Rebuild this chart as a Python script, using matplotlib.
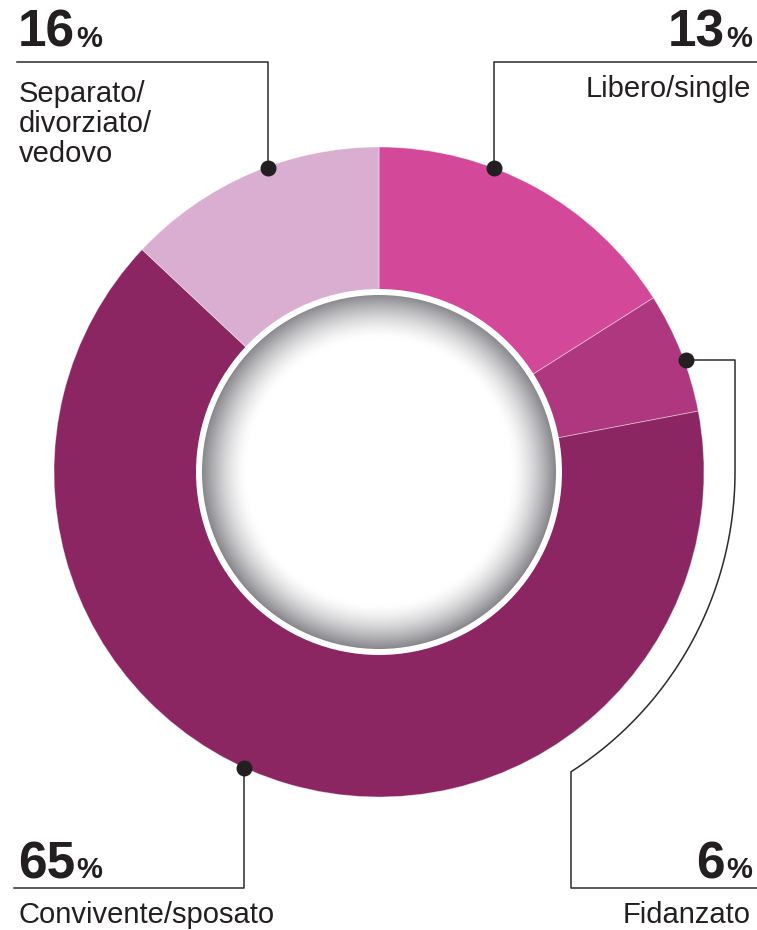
import numpy as np
import matplotlib
matplotlib.use("Agg")
import matplotlib.pyplot as plt
from matplotlib.patches import Circle

# ---- data ----
categories = ["Libero/single", "Fidanzato", "Convivente/sposato", "Separato/\ndivorziato/\nvedovo"]
slice_values = [16, 6, 65, 13]          # slice sizes as drawn in the picture
label_values = ["13", "6", "65", "16"]  # percentages printed in the labels
colors = ["#D4489A", "#AE377F", "#8C2663", "#D9AED0"]

W, H = 757, 930
fig = plt.figure(figsize=(W / 100, H / 100), dpi=100)
ax = fig.add_axes([0, 0, 1, 1])

def Y(y):
    return H - y

cx, cy = 379, Y(472)
R_out = 325

ax.pie(slice_values, colors=colors, startangle=90, counterclock=False,
       center=(cx, cy), radius=R_out,
       wedgeprops=dict(edgecolor=(1, 1, 1, 0.45), linewidth=0.6))
ax.set_xlim(0, W)
ax.set_ylim(0, H)
ax.set_aspect("auto")
ax.axis("off")

# white ring + shaded inner disk
ax.add_patch(Circle((cx, cy), 183, facecolor="white", edgecolor="none", zorder=3))
r_in = 177
n = 400
xs = np.linspace(-1, 1, n)
XX, YY = np.meshgrid(xs, xs)
RR = np.sqrt(XX ** 2 + YY ** 2)
t = np.clip((RR - 0.75) / 0.25, 0, 1)
t = t ** 1.5
edge = np.array([0.53, 0.53, 0.55])
img = np.ones((n, n, 3)) * (1 - t[..., None]) + edge * t[..., None]
clip = Circle((cx, cy), r_in, transform=ax.transData, facecolor="none", edgecolor="none")
ax.add_patch(clip)
im = ax.imshow(img, extent=[cx - r_in, cx + r_in, cy - r_in, cy + r_in],
               origin="lower", zorder=4, interpolation="bilinear")
im.set_clip_path(clip)
ax.set_xlim(0, W)
ax.set_ylim(0, H)
ax.set_aspect("auto")

# connectors
lc = "#2b2b2b"
lw = 1.1
dot_kw = dict(s=110, color="#231F20", zorder=6)

# Separato (top-left)
ax.plot([268, 268, 17], [Y(168), Y(62), Y(62)], color=lc, lw=lw, zorder=5)
ax.scatter([268], [Y(168)], **dot_kw)
# Libero (top-right)
ax.plot([494, 494, 757], [Y(168), Y(62), Y(62)], color=lc, lw=lw, zorder=5)
ax.scatter([494], [Y(168)], **dot_kw)
# Convivente (bottom-left)
ax.plot([244, 244, 14], [Y(768), Y(888), Y(888)], color=lc, lw=lw, zorder=5)
ax.scatter([244], [Y(768)], **dot_kw)
# Fidanzato (right, curved)
Ra = 356
th_end = np.arccos((571 - 379) / Ra)
th = np.linspace(0, th_end, 80)
arc_x = 379 + Ra * np.cos(th)
arc_y = 472 + Ra * np.sin(th)
px = np.concatenate([[686, 735], arc_x, [571, 757]])
py = np.concatenate([[360, 360], arc_y, [888, 888]])
ax.plot(px, [Y(v) for v in py], color=lc, lw=lw, zorder=5)
ax.scatter([686], [Y(360)], **dot_kw)

# texts
tc = "#231F20"
fam = ["Liberation Sans", "DejaVu Sans"]
big = 37
pct = 21
lab = 21

fig.canvas.draw()

def pct_label(x, y, num, ha):
    if ha == "left":
        t1 = ax.text(x, Y(y), num, fontsize=big, fontweight="bold", color=tc,
                     family=fam, ha="left", va="baseline")
        bb = t1.get_window_extent(renderer=fig.canvas.get_renderer())
        xd = ax.transData.inverted().transform((bb.x1, 0))[0]
        ax.text(xd + 1, Y(y), "%", fontsize=pct, fontweight="bold", color=tc,
                family=fam, ha="left", va="baseline")
    else:
        t2 = ax.text(x, Y(y), "%", fontsize=pct, fontweight="bold", color=tc,
                     family=fam, ha="right", va="baseline")
        bb = t2.get_window_extent(renderer=fig.canvas.get_renderer())
        xd = ax.transData.inverted().transform((bb.x0, 0))[0]
        ax.text(xd - 1, Y(y), num, fontsize=big, fontweight="bold", color=tc,
                family=fam, ha="right", va="baseline")

pct_label(18, 47, label_values[3], "left")
pct_label(752, 47, label_values[0], "right")
pct_label(18, 878, label_values[2], "left")
pct_label(752, 878, label_values[1], "right")

ax.text(19, Y(162), categories[3], fontsize=lab, color=tc, family=fam,
        ha="left", va="baseline", linespacing=1.1)
ax.text(751, Y(97), categories[0], fontsize=lab, color=tc, family=fam,
        ha="right", va="baseline")
ax.text(19, Y(923), categories[2], fontsize=lab, color=tc, family=fam,
        ha="left", va="baseline")
ax.text(751, Y(923), categories[1], fontsize=lab, color=tc, family=fam,
        ha="right", va="baseline")

fig.savefig("out.png", dpi=100)
